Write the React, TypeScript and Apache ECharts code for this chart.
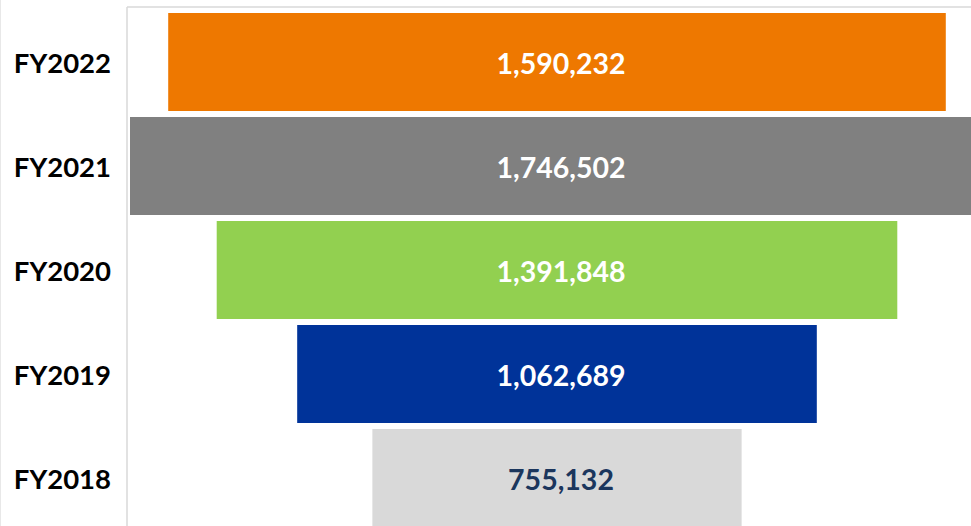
import React, { useEffect, useRef } from "react";
import * as echarts from "echarts";

const categories = ["FY2022", "FY2021", "FY2020", "FY2019", "FY2018"];
const values = [1590232, 1746502, 1391848, 1062689, 755132];
const barColors = ["#EE7800", "#808080", "#92D050", "#003399", "#D9D9D9"];
const labelColors = ["#FFFFFF", "#FFFFFF", "#FFFFFF", "#FFFFFF", "#1B365D"];

const FONT = "Lato, 'Open Sans', sans-serif";

export default function App() {
  const ref = useRef<HTMLDivElement>(null);
  useEffect(() => {
    if (!ref.current) return;
    const chart = echarts.init(ref.current, undefined, { renderer: "svg" });
    const maxV = Math.max(...values);
    const offsets = values.map((v) => (maxV - v) / 2);
    // plot shows 841px of an 854px-wide full bar (clipped at right page edge)
    const axisMax = maxV * (841 / 854);
    chart.setOption({
      animation: false,
      backgroundColor: "#ffffff",
      grid: { left: 130, right: 0, top: 10, height: 520, containLabel: false },
      xAxis: {
        type: "value",
        min: 0,
        max: axisMax,
        show: false,
      },
      yAxis: {
        type: "category",
        inverse: true,
        data: categories,
        axisLine: { show: false },
        axisTick: { show: false },
        splitLine: { show: false },
        axisLabel: {
          color: "#000000",
          fontFamily: FONT,
          fontWeight: "bold",
          fontSize: 27.5,
          margin: 19,
        },
      },
      graphic: [
        { type: "line", shape: { x1: 127, y1: 7, x2: 971, y2: 7 }, style: { stroke: "#D9D9D9", lineWidth: 1.5 }, z: 10 },
        { type: "line", shape: { x1: 127, y1: 7, x2: 127, y2: 540 }, style: { stroke: "#D9D9D9", lineWidth: 1.5 }, z: 10 },
        { type: "line", shape: { x1: 0.5, y1: 0, x2: 0.5, y2: 540 }, style: { stroke: "#E8E8E8", lineWidth: 1 }, z: 10 },
      ],
      series: [
        {
          type: "bar",
          stack: "funnel",
          data: offsets,
          itemStyle: { color: "transparent" },
          barCategoryGap: "5.8%",
          silent: true,
        },
        {
          type: "bar",
          stack: "funnel",
          barCategoryGap: "5.8%",
          clip: false,
          data: values.map((v, i) => ({
            value: v,
            itemStyle: { color: barColors[i] },
            label: { color: labelColors[i] },
          })),
          label: {
            show: true,
            position: "inside",
            offset: [4, 1],
            fontFamily: FONT,
            fontWeight: "bold",
            fontSize: 28.5,
            formatter: (p: any) => Number(p.value).toLocaleString("en-US"),
          },
        },
      ],
    });
    return () => chart.dispose();
  }, []);
  return (
    <div style={{ position: "fixed", left: 0, top: 0, width: 971, height: 526, overflow: "hidden" }}>
      <div ref={ref} style={{ width: 971, height: 540 }} />
    </div>
  );
}
